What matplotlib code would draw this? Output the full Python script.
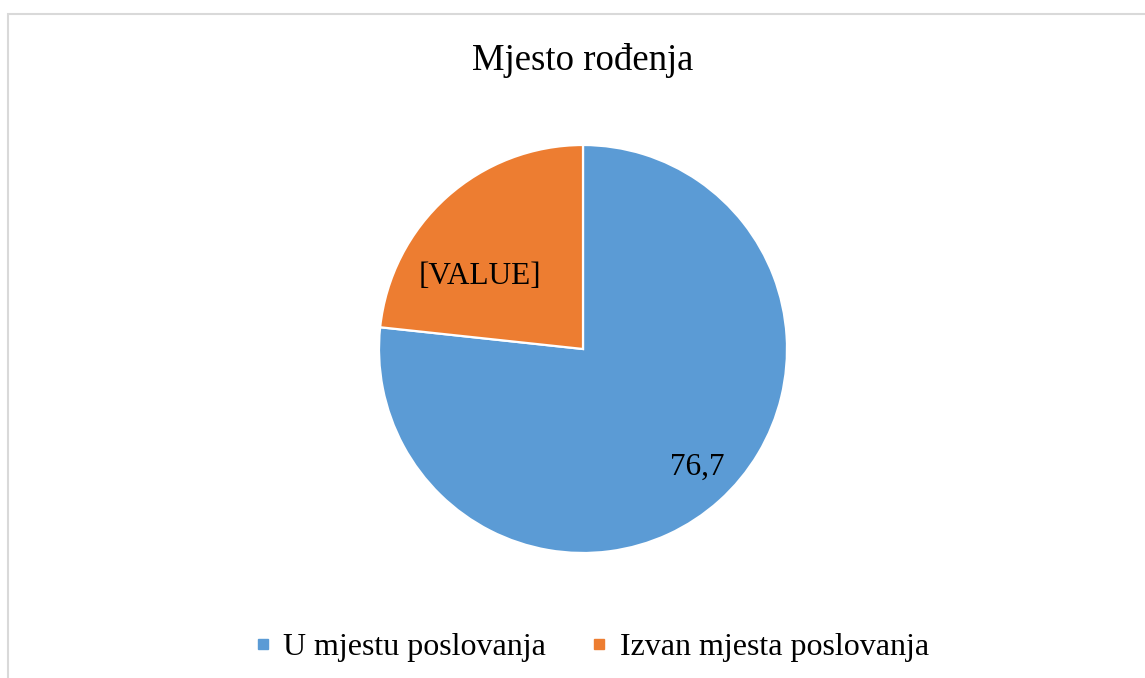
import matplotlib.pyplot as plt
from matplotlib.patches import Rectangle
from matplotlib.lines import Line2D

plt.rcParams['font.family'] = ['Liberation Serif', 'DejaVu Serif']

categories = ["U mjestu poslovanja", "Izvan mjesta poslovanja"]
values = [76.7, 23.3]
slice_labels = ["76,7", "[VALUE]"]
colors = ["#5B9BD5", "#ED7D31"]

W, H = 1145, 678
fig = plt.figure(figsize=(W / 100, H / 100), dpi=100)

# chart border (right/bottom run off the picture)
fig.patches.append(Rectangle((7.5 / W, -0.05), 1.1, 1 - 14 / H + 0.05,
                             transform=fig.transFigure, fill=False,
                             edgecolor="#d9d9d9", linewidth=1.5))

fig.text(583 / W, 1 - 61 / H, "Mjesto rođenja", ha="center", va="center",
         fontsize=26.5)

cx, cy, r = 583, 349, 204
ax = fig.add_axes([(cx - r) / W, (H - cy - r) / H, 2 * r / W, 2 * r / H])
wedges, _ = ax.pie(values, colors=colors, startangle=90, counterclock=False,
                   wedgeprops=dict(edgecolor="white", linewidth=1.6))
ax.set_xlim(-1, 1)
ax.set_ylim(-1, 1)
ax.axis("off")

label_pos = [(0.56, -0.58), (-0.505, 0.355)]
for (x, y), lab in zip(label_pos, slice_labels):
    ax.text(x, y, lab, ha="center", va="center", fontsize=22.5)

handles = [Line2D([], [], marker="s", linestyle="none", markersize=7.5,
                  markerfacecolor=c, markeredgecolor=c) for c in colors]
fig.legend(handles, categories, loc="center", bbox_to_anchor=(591 / W, 1 - 647 / H),
           ncol=2, frameon=False, fontsize=23, handlelength=0.6,
           handletextpad=0.35, columnspacing=1.35)

fig.savefig("out.png", dpi=100)
